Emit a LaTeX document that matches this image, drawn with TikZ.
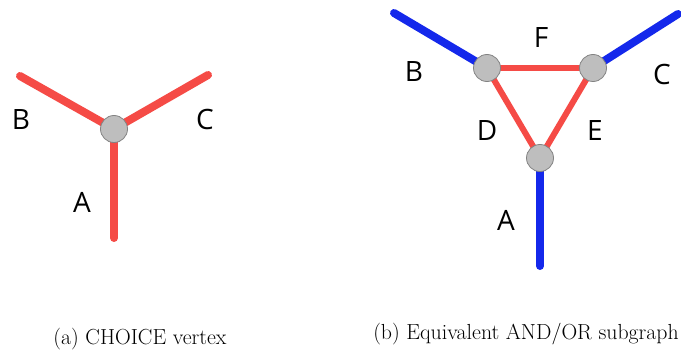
\documentclass[tikz,border=0pt]{standalone}
\usepackage{fontspec}
\setmainfont{Latin Modern Roman}
\newfontfamily\labfont{Open Sans}
\definecolor{lred}{RGB}{245,75,70}
\definecolor{lblue}{RGB}{20,40,235}
\definecolor{vfill}{RGB}{190,190,190}
\definecolor{vdraw}{RGB}{130,130,130}
\begin{document}
\begin{tikzpicture}[x=1pt,y=-1pt,
  vert/.style={circle,fill=vfill,draw=vdraw,line width=0.8pt,minimum size=27pt,inner sep=0pt},
  redthick/.style={draw=lred,line width=8pt,line cap=round},
  redthin/.style={draw=lred,line width=6pt,line cap=round},
  bluethick/.style={draw=lblue,line width=8pt,line cap=round},
  lab/.style={font=\labfont\fontsize{28}{30}\selectfont,inner sep=0pt},
  captext/.style={font=\fontsize{21.8}{24}\selectfont,inner sep=0pt}]
\useasboundingbox (0,0) rectangle (681,353);
% left
\coordinate (aB) at (20,76);
\coordinate (aC) at (208,75);
\coordinate (aA) at (114,238);
\coordinate (a0c) at (114,129);
\draw[redthick] (a0c) -- (aB);
\draw[redthick] (a0c) -- (aC);
\draw[redthick] (a0c) -- (aA);
\node[vert] (a0) at (a0c) {};
\node[lab] (labB) at (21,120) {B};
\node[lab] (labC) at (205,119) {C};
\node[lab] (labA) at (82,202) {A};
% right
\coordinate (bB) at (394,13);
\coordinate (bC) at (678,14);
\coordinate (bA) at (540,266);
\coordinate (p1) at (487,68);
\coordinate (p2) at (593,68);
\coordinate (p3) at (540,158);
\draw[bluethick] (p1) -- (bB);
\draw[bluethick] (p2) -- (bC);
\draw[bluethick] (p3) -- (bA);
\draw[redthin] (p1) -- (p2);
\draw[redthin] (p1) -- (p3);
\draw[redthin] (p2) -- (p3);
\node[vert] (v1) at (p1) {};
\node[vert] (v2) at (p2) {};
\node[vert] (v3) at (p3) {};
\node[lab] (lB) at (414,72) {B};
\node[lab] (lF) at (541,38) {F};
\node[lab] (lC) at (662,74) {C};
\node[lab] (lD) at (487,131) {D};
\node[lab] (lE) at (595,131) {E};
\node[lab] (lA) at (506,220) {A};
% captions
\node[captext] (capa) at (140,339) {(a) CHOICE vertex};
\node[captext] (capb) at (526,334) {(b) Equivalent AND/OR subgraph};
\end{tikzpicture}
\end{document}
